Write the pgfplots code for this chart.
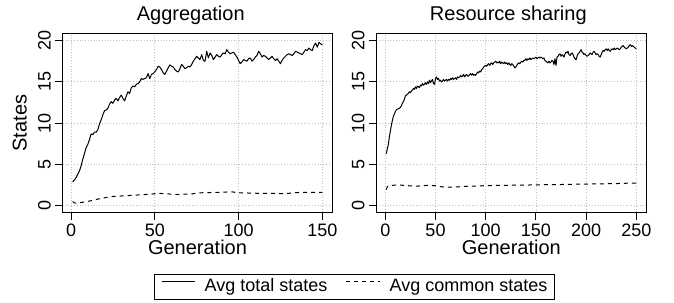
\documentclass[border=0pt]{standalone}
\usepackage{fontspec}
\setmainfont{Liberation Sans}
\usepackage{pgfplots}
\pgfplotsset{compat=1.18}
\usepackage{pgfplotstable}

\pgfplotstableread{
g v
1 2.9
2 3.1
3 3.4
4 3.8
5 4.2
6 4.8
7 5.6
8 6.3
9 7.0
10 7.4
11 8.0
12 8.7
13 8.6
14 8.9
15 8.9
16 9.2
17 9.9
18 10.4
19 11.0
20 11.5
21 11.6
22 11.8
23 12.3
24 12.6
25 12.4
26 12.8
27 13.0
28 12.7
29 13.1
30 13.4
31 13.0
32 12.7
33 13.3
34 13.8
35 13.6
36 14.3
37 14.5
38 14.4
39 14.7
40 14.8
41 15.0
42 15.4
43 15.3
44 15.4
45 15.5
46 16.0
47 15.4
48 15.9
49 16.0
50 16.2
51 16.5
52 16.9
53 16.8
54 16.5
55 16.1
56 15.9
57 16.3
58 16.7
59 17.05
60 16.9
61 16.8
62 16.5
63 16.3
64 16.2
65 16.6
66 17.1
67 16.9
68 16.6
69 16.7
70 16.9
71 16.8
72 17.1
73 17.5
74 17.8
75 18.1
76 17.9
77 17.7
78 18.3
79 17.6
80 17.5
81 18.7
82 17.9
83 18.5
84 18.2
85 17.7
86 18.0
87 18.3
88 18.1
89 18.0
90 18.3
91 18.5
92 18.4
93 18.9
94 18.6
95 18.4
96 18.5
97 18.6
98 18.3
99 18.0
100 17.6
101 17.2
102 17.4
103 17.7
104 17.6
105 17.5
106 17.8
107 17.9
108 17.5
109 17.7
110 18.0
111 18.2
112 18.7
113 18.4
114 18.0
115 18.2
116 18.1
117 17.9
118 17.7
119 17.9
120 18.1
121 17.8
122 17.6
123 17.8
124 17.5
125 17.2
126 17.6
127 17.9
128 18.1
129 18.3
130 18.4
131 18.3
132 18.2
133 18.4
134 18.7
135 18.6
136 18.5
137 18.4
138 18.3
139 18.6
140 18.9
141 18.8
142 19.1
143 18.9
144 18.8
145 19.4
146 19.7
147 19.2
148 19.8
149 19.6
150 19.5
}\aggtotal

\pgfplotstableread{
g v
1 0.5
2 0.35
3 0.3
5 0.35
8 0.45
12 0.6
16 0.8
20 0.95
24 1.1
28 1.15
32 1.2
36 1.25
40 1.3
44 1.35
48 1.4
52 1.5
56 1.45
60 1.4
64 1.35
68 1.4
72 1.42
76 1.55
80 1.58
84 1.6
88 1.6
92 1.65
96 1.68
100 1.55
104 1.55
108 1.52
112 1.5
116 1.5
120 1.5
124 1.45
128 1.45
132 1.55
136 1.6
140 1.6
144 1.6
150 1.62
}\aggcommon

\pgfplotstableread{
g v
1 6.3
2 6.9
3 7.4
4 8.3
5 9.0
6 9.7
7 10.3
8 10.8
9 11.1
10 11.4
11 11.6
12 11.7
13 11.75
14 11.8
15 11.9
16 12.1
17 12.4
18 12.6
19 12.9
20 13.3
21 13.4
22 13.5
23 13.6
24 13.8
25 13.7
26 13.9
27 14.0
28 14.2
29 14.1
30 14.4
31 14.2
32 14.5
33 14.4
34 14.3
35 14.6
36 14.5
37 14.8
38 14.6
39 14.7
40 14.9
41 14.7
42 15.0
43 14.8
44 15.2
45 14.9
46 15.1
47 15.3
48 14.8
49 14.7
50 15.4
51 15.6
52 15.3
53 15.4
54 15.1
55 15.2
56 15.0
57 15.1
58 15.3
59 15.1
60 15.2
61 15.3
62 15.1
63 15.3
64 15.2
65 15.4
66 15.3
67 15.5
68 15.3
69 15.4
70 15.5
71 15.3
72 15.6
73 15.5
74 15.6
75 15.8
76 15.6
77 15.7
78 15.9
79 15.6
80 15.8
81 15.9
82 15.7
83 15.7
84 15.9
85 16.0
86 15.8
87 16.0
88 15.8
89 15.9
90 15.8
91 16.0
92 16.2
93 16.1
94 16.3
95 16.2
96 16.5
97 16.6
98 16.8
99 16.9
100 17.0
101 16.9
102 17.1
103 17.2
104 17.0
105 17.2
106 17.3
107 17.1
108 17.3
109 17.4
110 17.5
111 17.3
112 17.4
113 17.3
114 17.5
115 17.2
116 17.4
117 17.3
118 17.2
119 17.4
120 17.2
121 17.3
122 17.1
123 17.3
124 17.1
125 17.0
126 17.2
127 17.1
128 16.9
129 16.7
130 16.8
131 17.0
132 17.2
133 17.3
134 17.2
135 17.4
136 17.5
137 17.4
138 17.6
139 17.6
140 17.8
141 17.6
142 17.8
143 17.7
144 17.9
145 17.7
146 17.8
147 17.9
148 17.8
149 17.9
150 18.0
151 17.8
152 17.9
153 18.0
154 17.9
155 18.0
156 17.9
157 17.8
158 17.9
159 17.6
160 17.5
161 17.4
162 17.3
163 17.5
164 17.3
165 17.4
166 17.6
167 17.5
168 17.1
169 17.8
170 17.0
171 18.0
172 18.1
173 18.3
174 18.4
175 18.1
176 18.3
177 18.2
178 18.0
179 18.4
180 18.6
181 18.5
182 18.7
183 18.3
184 18.2
185 18.4
186 18.5
187 18.3
188 18.0
189 17.8
190 17.7
191 18.1
192 18.4
193 18.5
194 18.7
195 18.9
196 18.6
197 18.5
198 18.3
199 18.4
200 18.2
201 18.1
202 18.2
203 18.3
204 18.5
205 18.4
206 18.3
207 18.6
208 18.7
209 18.5
210 18.3
211 18.4
212 18.3
213 18.1
214 18.0
215 18.3
216 18.6
217 18.8
218 18.7
219 18.9
220 19.0
221 18.8
222 19.0
223 18.8
224 18.7
225 18.9
226 19.0
227 18.9
228 19.1
229 18.9
230 19.0
231 19.1
232 19.0
233 18.9
234 19.0
235 19.2
236 19.3
237 19.4
238 19.2
239 19.1
240 19.0
241 19.1
242 19.2
243 19.4
244 19.5
245 19.3
246 19.4
247 19.3
248 19.2
249 19.1
250 19.0
}\restotal

\pgfplotstableread{
g v
1 1.95
2 2.3
3 2.35
6 2.45
10 2.5
15 2.5
20 2.45
25 2.4
30 2.35
35 2.4
40 2.45
45 2.45
50 2.42
55 2.3
60 2.25
65 2.25
70 2.27
75 2.3
80 2.35
90 2.38
100 2.43
110 2.45
120 2.47
130 2.48
140 2.5
150 2.52
160 2.55
170 2.55
180 2.58
190 2.6
200 2.62
210 2.64
220 2.66
230 2.68
240 2.72
250 2.75
}\rescommon

\pgfplotsset{
  rpanel/.style={
    scale only axis,
    height=89.15pt,
    ymin=-0.8, ymax=20.8,
    ytick={0,5,10,15,20},
    tick align=outside,
    xtick pos=left, ytick pos=left,
    major tick length=3.75pt,
    every tick/.style={black, line width=0.5pt},
    axis line style={black, line width=0.5pt},
    grid=major,
    major grid style={densely dotted, black!25, line width=0.4pt},
    /pgf/number format/assume math mode=true,
    tick label style={font=\fontsize{9}{10}\selectfont},
    xticklabel style={anchor=base, inner sep=0pt, yshift=-8.5pt},
    yticklabel style={xshift=-2.25pt, rotate=90, anchor=base, inner sep=0pt},
    label style={font=\fontsize{9}{10}\selectfont},
    every axis x label/.style={at={(axis description cs:0.5,0)}, yshift=-21pt, anchor=base},
    every axis y label/.style={at={(axis description cs:0,0.5)}, xshift=-18pt, rotate=90, anchor=base},
    title style={font=\fontsize{10}{12}\selectfont},
    legend image code/.code={\draw[#1] (0pt,2.6pt) -- (16.7pt,2.6pt);},
  },
  totline/.style={black, line width=0.5pt, line join=round},
  comline/.style={black, line width=0.5pt, dash pattern=on 2pt off 2pt},
}

\begin{document}
\begin{tikzpicture}
\begin{axis}[rpanel,
  at={(31.35pt,45.35pt)}, anchor=south west,
  width=134.8pt,
  xmin=-4.96, xmax=155.96,
  xtick={0,50,100,150},
  xlabel={Generation}, ylabel={States},
  every axis title/.style={at={(axis description cs:0.475,1)}, yshift=6.65pt, anchor=base},
  title={Aggregation},
  legend columns=2,
  legend style={at={(axis description cs:1.0812,-0.4178)}, anchor=center,
    draw=black, line width=0.5pt, fill=white,
    inner xsep=3.5pt, inner ysep=2pt,
    font=\fontsize{9}{10}\selectfont,
    /tikz/every odd column/.style={column sep=4.6pt},
    /tikz/every even column/.style={column sep=9.3pt},
    nodes={inner sep=0pt, text height=6.6pt, text depth=1.9pt}},
]
\addplot[totline] table[x=g, y=v] {\aggtotal};
\addlegendentry{Avg total states}
\addplot[comline] table[x=g, y=v] {\aggcommon};
\addlegendentry{Avg common states}
\end{axis}
\begin{axis}[rpanel,
  at={(188.15pt,45.35pt)}, anchor=south west,
  width=135pt,
  xmin=-8.96, xmax=259.96,
  xtick={0,50,100,150,200,250},
  xlabel={Generation},
  every axis title/.style={at={(axis description cs:0.489,1)}, yshift=6.65pt, anchor=base},
  title={Resource sharing},
]
\addplot[totline] table[x=g, y=v] {\restotal};
\addplot[comline] table[x=g, y=v] {\rescommon};
\end{axis}
\pgfresetboundingbox
\path (0pt,0pt) rectangle (337pt,151.5pt);
\end{tikzpicture}
\end{document}
